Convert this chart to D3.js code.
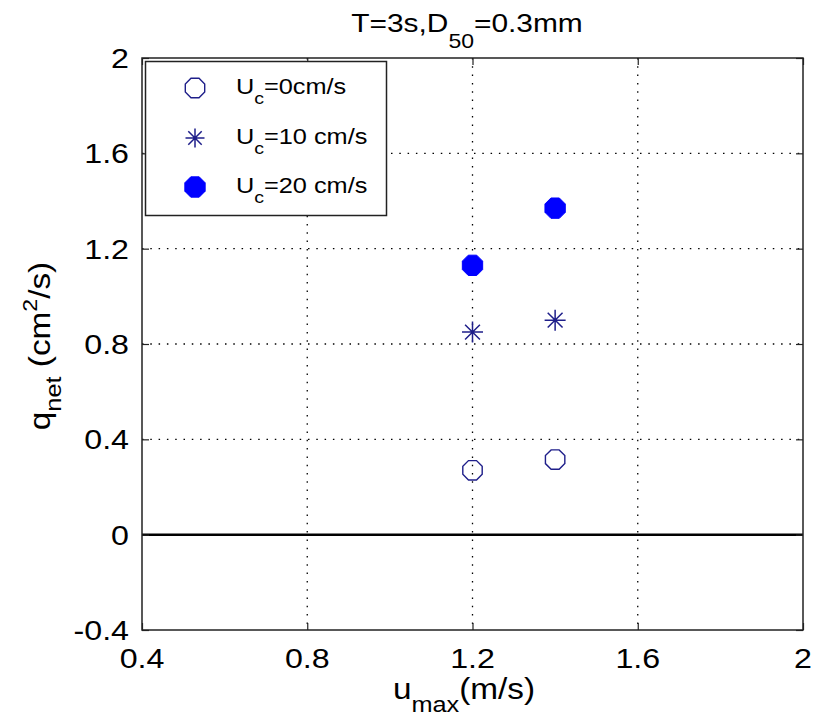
<!DOCTYPE html>
<html>
<head>
<meta charset="utf-8">
<script src="https://cdn.jsdelivr.net/npm/d3@7"></script>
<style>
  html, body { margin: 0; padding: 0; background: #fff; }
  svg { display: block; font-family: "Liberation Sans", Arial, Helvetica, sans-serif; }
</style>
</head>
<body>
<svg id="chart" width="816" height="720"></svg>
<script>
// Net transport vs. peak orbital velocity for three current strengths
const umax = [1.2, 1.4];
const qUc0 = [0.27, 0.315];
const qUc10 = [0.85, 0.90];
const qUc20 = [1.13, 1.37];

const xTicks = [0.4, 0.8, 1.2, 1.6, 2];
const yTicks = [-0.4, 0, 0.4, 0.8, 1.2, 1.6, 2];
const xTickLabels = ["0.4", "0.8", "1.2", "1.6", "2"];
const yTickLabels = ["-0.4", "0", "0.4", "0.8", "1.2", "1.6", "2"];
const legendLabels = ["=0cm/s", "=10 cm/s", "=20 cm/s"];

const svg = d3.select("#chart");
const m = { left: 142, right: 803, top: 58, bottom: 630 };

const x = d3.scaleLinear().domain([0.4, 2]).range([m.left, m.right]);
const y = d3.scaleLinear().domain([-0.4, 2]).range([m.bottom, m.top]);

const navy = "#1f1f8a";
const blue = "#0000ff";
const SX = 1.15; // glyphs are drawn slightly wide

// text placed at (px,py) with a horizontal stretch
function label(parent, px, py, size, anchor, rotate) {
  const tr = `translate(${px},${py})` + (rotate ? ` rotate(${rotate})` : "") + ` scale(${SX},1)`;
  return parent.append("text").attr("transform", tr)
    .attr("text-anchor", anchor).attr("font-size", size).attr("fill", "#000");
}

// octagon path (low-resolution circle marker)
function octagon(r) {
  const pts = d3.range(8).map(i => {
    const a = Math.PI / 8 + i * Math.PI / 4;
    return [r * Math.cos(a), r * Math.sin(a)];
  });
  return "M" + pts.map(p => p.join(",")).join("L") + "Z";
}
// asterisk: plus and cross combined
function asterisk(r) {
  const d = r * Math.SQRT1_2;
  return `M${-r},0L${r},0M0,${-r}L0,${r}M${-d},${-d}L${d},${d}M${-d},${d}L${d},${-d}`;
}

// grid (dotted)
const grid = svg.append("g");
grid.selectAll("line.gx").data(xTicks.slice(1, -1)).join("line")
  .attr("x1", d => x(d)).attr("x2", d => x(d))
  .attr("y1", m.top).attr("y2", m.bottom)
  .attr("stroke", "#000").attr("stroke-width", 1.3).attr("stroke-dasharray", "1.5,6.8");
grid.selectAll("line.gy").data(yTicks.slice(1, -1)).join("line")
  .attr("x1", m.left).attr("x2", m.right)
  .attr("y1", d => y(d)).attr("y2", d => y(d))
  .attr("stroke", "#000").attr("stroke-width", 1.3).attr("stroke-dasharray", "1.5,6.8");

// zero reference line
svg.append("line")
  .attr("x1", m.left).attr("x2", m.right)
  .attr("y1", y(0)).attr("y2", y(0))
  .attr("stroke", "#000").attr("stroke-width", 2.5);

// axes with inward ticks, labels drawn separately
const tickLen = 7;
const axB = svg.append("g").attr("transform", `translate(0,${m.bottom})`)
  .call(d3.axisBottom(x).tickValues(xTicks).tickSize(-tickLen).tickFormat(""));
const axT = svg.append("g").attr("transform", `translate(0,${m.top})`)
  .call(d3.axisTop(x).tickValues(xTicks).tickSize(-tickLen).tickFormat(""));
const axL = svg.append("g").attr("transform", `translate(${m.left},0)`)
  .call(d3.axisLeft(y).tickValues(yTicks).tickSize(-tickLen).tickFormat(""));
const axR = svg.append("g").attr("transform", `translate(${m.right},0)`)
  .call(d3.axisRight(y).tickValues(yTicks).tickSize(-tickLen).tickFormat(""));
[axB, axT, axL, axR].forEach(a => {
  a.select(".domain").remove();
  a.selectAll(".tick line").attr("stroke", "#222").attr("stroke-width", 1.2);
});

svg.append("rect")
  .attr("x", m.left).attr("y", m.top)
  .attr("width", m.right - m.left).attr("height", m.bottom - m.top)
  .attr("fill", "none").attr("stroke", "#222").attr("stroke-width", 1.5);

// tick labels
const tlx = svg.append("g");
xTicks.forEach((v, i) => label(tlx, x(v), 668, 28, "middle").text(xTickLabels[i]));
const tly = svg.append("g");
yTicks.forEach((v, i) => label(tly, 129, y(v) + 10, 28, "end").text(yTickLabels[i]));

// title
const title = label(svg, 467, 32, 26, "middle");
title.append("tspan").text("T=3s,D");
title.append("tspan").attr("font-size", 20).attr("dy", 16).text("50");
title.append("tspan").attr("dy", -16).text("=0.3mm");

// x label
const xl = label(svg, 464, 699, 29, "middle");
xl.append("tspan").text("u");
xl.append("tspan").attr("font-size", 22).attr("dy", 13).text("max");
xl.append("tspan").attr("dy", -13).text("(m/s)");

// y label
const yl = label(svg, 50, 346, 29, "middle", -90);
yl.append("tspan").text("q");
yl.append("tspan").attr("font-size", 22).attr("dy", 11).text("net");
yl.append("tspan").attr("dy", -11).text(" (cm");
yl.append("tspan").attr("font-size", 20).attr("dy", -13).text("2");
yl.append("tspan").attr("dy", 13).text("/s)");

// data markers
const pts0 = umax.map((u, i) => [u, qUc0[i]]);
const pts10 = umax.map((u, i) => [u, qUc10[i]]);
const pts20 = umax.map((u, i) => [u, qUc20[i]]);

svg.append("g").selectAll("path").data(pts0).join("path")
  .attr("transform", d => `translate(${x(d[0])},${y(d[1])})`)
  .attr("d", octagon(10.5)).attr("fill", "none").attr("stroke", navy).attr("stroke-width", 1.4);
svg.append("g").selectAll("path").data(pts10).join("path")
  .attr("transform", d => `translate(${x(d[0])},${y(d[1])})`)
  .attr("d", asterisk(10.5)).attr("fill", "none").attr("stroke", navy).attr("stroke-width", 1.5);
svg.append("g").selectAll("path").data(pts20).join("path")
  .attr("transform", d => `translate(${x(d[0])},${y(d[1])})`)
  .attr("d", octagon(11)).attr("fill", blue).attr("stroke", blue).attr("stroke-width", 1);

// legend
const lg = svg.append("g");
lg.append("rect").attr("x", 145.5).attr("y", 61.5).attr("width", 241).attr("height", 154)
  .attr("fill", "#fff").attr("stroke", "#222").attr("stroke-width", 1.5);
const rows = [88, 138, 187];
const legendMarkers = [
  { d: octagon(10.5), fill: "none", stroke: navy, sw: 1.4 },
  { d: asterisk(9.5), fill: "none", stroke: navy, sw: 1.5 },
  { d: octagon(11), fill: blue, stroke: blue, sw: 1 }
];
legendLabels.forEach((lab, i) => {
  const mk = legendMarkers[i];
  lg.append("path").attr("transform", `translate(195,${rows[i]})`)
    .attr("d", mk.d).attr("fill", mk.fill).attr("stroke", mk.stroke).attr("stroke-width", mk.sw);
  const t = label(lg, 236, rows[i] + 6, 22, "start");
  t.append("tspan").text("U");
  t.append("tspan").attr("font-size", 17).attr("dy", 10).text("c");
  t.append("tspan").attr("dy", -10).text(lab);
});
</script>
</body>
</html>
